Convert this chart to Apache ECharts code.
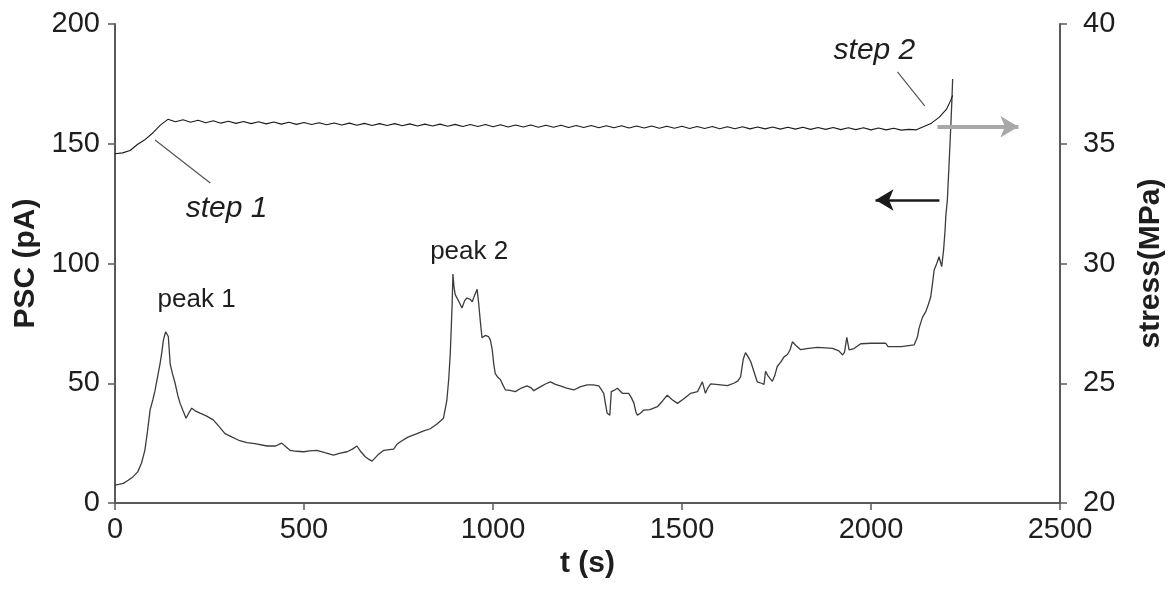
<!DOCTYPE html>
<html>
<head>
<meta charset="utf-8">
<script src="https://cdn.jsdelivr.net/npm/echarts@6/dist/echarts.min.js"></script>
<style>
  html, body { margin: 0; padding: 0; background: #fff; }
  #chart { width: 1176px; height: 596px; }
</style>
</head>
<body>
<div id="chart"></div>
<script>
// Photocurrent (PSC) trace, time in seconds and current in pA
const pscTime = [0, 10, 22, 35, 48, 60, 70, 79, 86, 93, 100, 106, 113, 119, 124, 128, 134, 138, 141, 146,
  152, 159, 166, 172, 180, 188, 195, 203, 212, 225, 240, 260, 275, 291, 310, 330, 349, 370, 402, 425,
  441, 452, 463, 480, 499, 515, 534, 555, 578, 596, 614, 628, 640, 650, 662, 672, 680, 695, 711, 737,
  746, 755, 775, 799, 815, 834, 852, 869, 878, 883, 887, 890, 892, 894, 897, 900, 910, 918, 925, 931,
  940, 945, 952, 958, 962, 967, 971, 980, 988, 993, 998, 1002, 1006, 1013, 1020, 1027, 1033, 1045, 1059, 1075,
  1090, 1100, 1108, 1125, 1140, 1152, 1165, 1178, 1195, 1214, 1230, 1249, 1265, 1280, 1293, 1298, 1302, 1309, 1313, 1320,
  1329, 1335, 1342, 1359, 1366, 1373, 1378, 1382, 1390, 1399, 1415, 1435, 1448, 1461, 1475, 1488, 1505, 1523, 1541, 1554,
  1562, 1568, 1576, 1590, 1602, 1620, 1637, 1648, 1655, 1662, 1668, 1675, 1682, 1690, 1699, 1710, 1717, 1721, 1728, 1739,
  1745, 1752, 1762, 1770, 1779, 1786, 1792, 1800, 1814, 1830, 1858, 1880, 1898, 1915, 1925, 1930, 1936, 1942, 1955, 1973,
  2000, 2039, 2045, 2080, 2114, 2123, 2127, 2136, 2145, 2152, 2158, 2163, 2167, 2174, 2180, 2187, 2192, 2196, 2198, 2202,
  2207, 2211, 2214, 2216];
const pscValue = [7.5, 7.8, 8.2, 9.5, 11, 13, 16.6, 22, 30, 39, 43, 47, 53, 58, 63, 68, 71.5, 71, 69.5, 58,
  54, 50, 45, 41.7, 38.5, 35.4, 37.5, 39.6, 38.5, 37.5, 36.5, 34.7, 32, 29, 27.5, 26, 25.2, 24.8, 23.8, 23.8,
  25, 23.5, 22, 21.6, 21.4, 21.8, 22, 21, 20, 20.8, 21.4, 22.5, 23.8, 21.5, 19.3, 18.2, 17.5, 20, 22, 22.5,
  24.5, 25.6, 27.5, 29, 30, 31, 33, 35.4, 43, 52, 62.5, 75, 83.5, 95.6, 90, 87, 84, 81.4, 84.5, 85.6,
  85, 84, 87, 89.2, 83.5, 75, 69, 70, 69.5, 68, 64, 58, 54, 52.5, 51.4, 49, 47.2, 47, 46.5, 48,
  48.9, 48.2, 46.9, 48.5, 49.8, 50.6, 49.5, 48.9, 48, 47.2, 48.5, 49.3, 49.3, 48.9, 45.8, 41, 37.5, 36.7, 46.5, 47,
  47.9, 47, 45.8, 45.8, 44, 41.6, 38, 36.7, 37.5, 38.8, 39, 40.2, 42.5, 45, 43, 41.6, 43.5, 45.8, 46.5, 50.6,
  45.8, 48, 49.7, 49.5, 49.3, 49, 50, 51, 52.7, 60, 62.8, 61, 59, 55, 50.6, 50, 49.5, 55, 53, 50.8,
  53, 57, 59, 61, 62, 64, 67.3, 66, 64, 64.5, 65, 64.8, 64.6, 63.5, 61.8, 63, 69.2, 63.9, 64.5, 66.5,
  66.7, 66.7, 65.3, 65.3, 66, 69.4, 72.9, 77.5, 79.9, 83, 86.1, 92, 97.3, 100, 102.8, 98.7, 105.6, 114, 120, 126.5,
  143, 157, 168, 177];

// Applied stress, time in seconds and stress in MPa
const stressTime = [0, 20, 40, 60, 80, 100, 120, 140, 160, 180, 200, 220, 240, 260, 280, 300, 320, 340, 360, 380,
  400, 420, 440, 460, 480, 500, 520, 540, 560, 580, 600, 620, 640, 660, 680, 700, 720, 740, 760, 780,
  800, 820, 840, 860, 880, 900, 920, 940, 960, 980, 1000, 1020, 1040, 1060, 1080, 1100, 1120, 1140, 1160, 1180,
  1200, 1220, 1240, 1260, 1280, 1300, 1320, 1340, 1360, 1380, 1400, 1420, 1440, 1460, 1480, 1500, 1520, 1540, 1560, 1580,
  1600, 1620, 1640, 1660, 1680, 1700, 1720, 1740, 1760, 1780, 1800, 1820, 1840, 1860, 1880, 1900, 1920, 1940, 1960, 1980,
  2000, 2020, 2040, 2060, 2080, 2100, 2120, 2140, 2160, 2180, 2200, 2210, 2216];
const stressValue = [34.58, 34.62, 34.72, 34.98, 35.18, 35.45, 35.78, 36.02, 35.92, 36.00, 35.90, 35.98, 35.88, 35.96, 35.86, 35.94, 35.85, 35.93, 35.84, 35.92,
  35.83, 35.91, 35.82, 35.90, 35.81, 35.89, 35.80, 35.88, 35.79, 35.87, 35.78, 35.86, 35.77, 35.85, 35.76, 35.84, 35.76, 35.84, 35.75, 35.83,
  35.74, 35.82, 35.74, 35.82, 35.73, 35.81, 35.72, 35.80, 35.72, 35.80, 35.71, 35.79, 35.70, 35.78, 35.70, 35.78, 35.69, 35.77, 35.69, 35.77,
  35.68, 35.76, 35.68, 35.76, 35.67, 35.75, 35.67, 35.75, 35.66, 35.74, 35.66, 35.74, 35.65, 35.73, 35.65, 35.73, 35.64, 35.72, 35.64, 35.72,
  35.63, 35.71, 35.63, 35.71, 35.62, 35.70, 35.62, 35.70, 35.61, 35.69, 35.61, 35.69, 35.60, 35.68, 35.60, 35.68, 35.59, 35.67, 35.59, 35.67,
  35.58, 35.66, 35.58, 35.65, 35.57, 35.60, 35.58, 35.72, 35.86, 36.10, 36.45, 36.78, 37.02];

// Axis tick values
const timeTicks = [0, 500, 1000, 1500, 2000, 2500];
const pscTicks = [0, 50, 100, 150, 200];
const stressTicks = [20, 25, 30, 35, 40];

const pairs = (xs, ys) => xs.map((x, i) => [x, ys[i]]);

const FONT = '"Liberation Sans", Arial, Helvetica, sans-serif';
const AXIS_COLOR = '#5a5a5a';
const TEXT_COLOR = '#1e1e1e';

const chart = echarts.init(document.getElementById('chart'), null, { renderer: 'canvas' });

const tickLabel = { color: TEXT_COLOR, fontFamily: FONT, fontSize: 29, formatter: v => String(v) };
const axisTitle = { color: TEXT_COLOR, fontFamily: FONT, fontSize: 30, fontWeight: 'bold' };

// annotation text placed in data coordinates
function note(text, coord, italic, size) {
  return {
    coord: coord,
    symbol: 'circle',
    symbolSize: 0,
    label: {
      show: true, position: 'inside', formatter: text,
      color: TEXT_COLOR, fontFamily: FONT, fontSize: size,
      fontStyle: italic ? 'italic' : 'normal'
    }
  };
}

chart.setOption({
  animation: false,
  backgroundColor: '#ffffff',
  grid: { left: 115, right: 116, top: 24, bottom: 93, containLabel: false },
  xAxis: {
    type: 'value',
    min: timeTicks[0], max: timeTicks[timeTicks.length - 1], interval: 500,
    name: 't (s)', nameLocation: 'middle', nameGap: 46, nameTextStyle: axisTitle,
    axisLine: { show: true, lineStyle: { color: AXIS_COLOR, width: 2 } },
    axisTick: { show: true, inside: false, length: 7, lineStyle: { color: AXIS_COLOR, width: 1.5 } },
    axisLabel: Object.assign({ margin: 12 }, tickLabel),
    splitLine: { show: false }
  },
  yAxis: [
    {
      type: 'value', position: 'left',
      min: pscTicks[0], max: pscTicks[pscTicks.length - 1], interval: 50,
      name: 'PSC (pA)', nameLocation: 'middle', nameGap: 72, nameRotate: 90, nameTextStyle: axisTitle,
      axisLine: { show: true, onZero: false, lineStyle: { color: AXIS_COLOR, width: 2 } },
      axisTick: { show: true, inside: false, length: 7, lineStyle: { color: AXIS_COLOR, width: 1.5 } },
      axisLabel: Object.assign({ margin: 15 }, tickLabel),
      splitLine: { show: false }
    },
    {
      type: 'value', position: 'right',
      min: stressTicks[0], max: stressTicks[stressTicks.length - 1], interval: 5,
      name: 'stress(MPa)', nameLocation: 'middle', nameGap: 76, nameRotate: 90, nameTextStyle: axisTitle,
      axisLine: { show: true, onZero: false, lineStyle: { color: AXIS_COLOR, width: 2 } },
      axisTick: { show: true, inside: false, length: 7, lineStyle: { color: AXIS_COLOR, width: 1.5 } },
      axisLabel: Object.assign({ margin: 23 }, tickLabel),
      splitLine: { show: false }
    }
  ],
  series: [
    {
      name: 'PSC',
      type: 'line',
      yAxisIndex: 0,
      data: pairs(pscTime, pscValue),
      showSymbol: false,
      lineStyle: { color: '#3c3c3c', width: 1.3 },
      z: 3,
      markPoint: {
        silent: true,
        data: [
          note('peak 1', [216, 85], false, 26),
          note('peak 2', [937, 105], false, 26),
          note('step 1', [295, 123], true, 30),
          note('step 2', [2009, 189], true, 30)
        ]
      },
      markLine: {
        silent: true,
        symbol: ['none', 'none'],
        label: { show: false },
        data: [
          // leader lines for the stress steps
          [{ coord: [106, 151.6] }, { coord: [252, 133.6] }],
          [{ coord: [2070, 180] }, { coord: [2142, 165.8] }]
        ],
        lineStyle: { color: '#555', width: 1.2, type: 'solid' }
      }
    },
    {
      name: 'stress',
      type: 'line',
      yAxisIndex: 1,
      data: pairs(stressTime, stressValue),
      showSymbol: false,
      lineStyle: { color: '#1a1a1a', width: 1.1 },
      z: 4
    },
    {
      // direction arrows: grey points to the stress axis, black to the PSC axis
      name: 'arrows',
      type: 'line',
      yAxisIndex: 0,
      data: [],
      markLine: {
        silent: true,
        label: { show: false },
        symbol: ['none', 'arrow'],
        symbolSize: [16, 18],
        data: [
          [{ coord: [2176, 157.1], lineStyle: { color: '#a8a8a8', width: 4, type: 'solid' } },
           { coord: [2390, 157.1] }],
          [{ coord: [2181, 126.5], lineStyle: { color: '#1a1a1a', width: 2.5, type: 'solid' } },
           { coord: [2012, 126.5] }]
        ]
      }
    }
  ]
});
</script>
</body>
</html>
